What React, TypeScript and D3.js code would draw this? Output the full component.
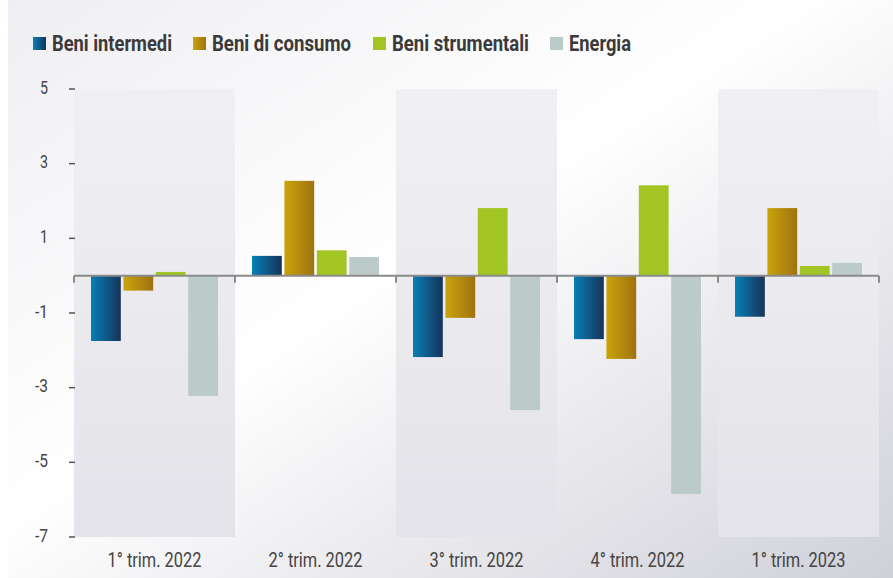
import React from "react";
import * as d3 from "d3";

const categories = ["1° trim. 2022", "2° trim. 2022", "3° trim. 2022", "4° trim. 2022", "1° trim. 2023"];
const seriesNames = ["Beni intermedi", "Beni di consumo", "Beni strumentali", "Energia"];
const beniIntermedi = [-1.75, 0.53, -2.18, -1.7, -1.1];
const beniConsumo = [-0.4, 2.54, -1.13, -2.23, 1.81];
const beniStrumentali = [0.1, 0.68, 1.81, 2.42, 0.26];
const energia = [-3.22, 0.5, -3.6, -5.85, 0.34];
const yTicks = [5, 3, 1, -1, -3, -5, -7];

const seriesValues = [beniIntermedi, beniConsumo, beniStrumentali, energia];
const fills = ["url(#gBlue)", "url(#gGold)", "#a3c523", "#bccaca"];
const legendFills = ["url(#gBlue)", "url(#gGold)", "#a3c523", "#bccaca"];
const legendX = [33, 193, 373, 550];
const legendW = [120, 139, 137, 62];
const catW = [94, 94, 94, 94, 94];

export default function App() {
  const W = 893, H = 578;
  const x = d3.scaleBand<string>().domain(categories).range([74, 879]).padding(0);
  const y = d3.scaleLinear().domain([-7, 5]).range([537, 89]);
  const inner = d3.scaleBand<string>().domain(seriesNames).range([17, 144]).paddingInner(0.08);
  const font = "Roboto, 'Noto Sans', sans-serif";
  return (
    <svg width={W} height={H} style={{ position: "absolute", left: 0, top: 0 }} fontFamily={font}>
      <defs>
        <linearGradient id="bg" x1="0" y1="0" x2="1" y2="1">
          <stop offset="0" stopColor="#efeff3" />
          <stop offset="0.45" stopColor="#ffffff" />
          <stop offset="1" stopColor="#d0d0d9" />
        </linearGradient>
        <linearGradient id="band" x1="0" y1="0" x2="0" y2="1">
          <stop offset="0" stopColor="#f0f0f4" />
          <stop offset="1" stopColor="#e3e3e9" />
        </linearGradient>
        <linearGradient id="gBlue" x1="0" y1="0" x2="1" y2="0">
          <stop offset="0" stopColor="#0780b6" />
          <stop offset="1" stopColor="#17335a" />
        </linearGradient>
        <linearGradient id="gGold" x1="0" y1="0" x2="1" y2="0">
          <stop offset="0" stopColor="#c9a40b" />
          <stop offset="1" stopColor="#9f7210" />
        </linearGradient>
      </defs>
      <rect x={0} y={0} width={W} height={H} fill="#ffffff" />
      <rect x={8} y={0} width={W - 8} height={H} fill="url(#bg)" />
      {/* legend */}
      {seriesNames.map((s, i) => (
        <g key={s}>
          <rect x={legendX[i]} y={37} width={13} height={13} fill={legendFills[i]} />
          <text x={legendX[i] + 19} y={50.5} fontSize={22} fontWeight={700} fill="#3a3a3a"
            textLength={legendW[i]} lengthAdjust="spacingAndGlyphs">{s}</text>
        </g>
      ))}
      {/* shaded bands */}
      {categories.map((c, i) => i % 2 === 0 ? (
        <rect key={c} x={x(c)!} y={y(5)} width={x.bandwidth()} height={y(-7) - y(5)} fill="url(#band)" />
      ) : null)}
      {/* y axis ticks */}
      {yTicks.map(t => (
        <g key={t}>
          <line x1={69} x2={75} y1={y(t)} y2={y(t)} stroke="#555" strokeWidth={1.5} />
          <text x={48} y={y(t) + 4.5} textAnchor="end" fontSize={18} fill="#444"
            textLength={String(t).length > 1 ? 13 : 8} lengthAdjust="spacingAndGlyphs">{t}</text>
        </g>
      ))}
      {/* bars */}
      {categories.map((c, ci) => (
        <g key={c} transform={`translate(${x(c)},0)`}>
          {seriesNames.map((s, si) => {
            const v = seriesValues[si][ci];
            const y0 = y(0), y1 = y(v);
            return (
              <rect key={s} x={inner(s)!} width={inner.bandwidth()}
                y={Math.min(y0, y1)} height={Math.abs(y1 - y0)} fill={fills[si]} />
            );
          })}
        </g>
      ))}
      {/* zero line */}
      <line x1={74} x2={879} y1={y(0)} y2={y(0)} stroke="#8a8a8a" strokeWidth={2} />
      {[...categories.map(c => x(c)!), 879].map((xx, i) => (
        <line key={i} x1={xx} x2={xx} y1={y(0)} y2={y(0) + 7} stroke="#8a8a8a" strokeWidth={2} />
      ))}
      {/* category labels */}
      {categories.map((c, i) => (
        <text key={c} x={x(c)! + x.bandwidth() / 2} y={566.5} textAnchor="middle" fontSize={20} fill="#444"
          textLength={catW[i]} lengthAdjust="spacingAndGlyphs">{c}</text>
      ))}
    </svg>
  );
}
